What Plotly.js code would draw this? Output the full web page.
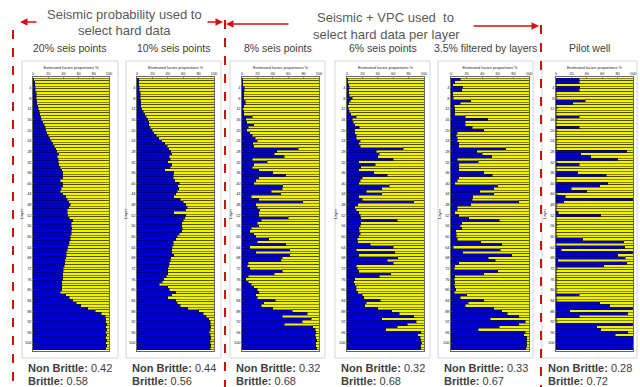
<!DOCTYPE html>
<html><head><meta charset="utf-8">
<script src="https://cdn.plot.ly/plotly-3.0.1.min.js"></script>
<style>html,body{margin:0;padding:0;background:#fff}</style>
</head><body><div id="chart" style="width:640px;height:387px"></div>
<script>
const layers = [1,2,3,4,5,6,7,8,9,10,11,12,13,14,15,16,17,18,19,20,21,22,23,24,25,26,27,28,29,30,31,32,33,34,35,36,37,38,39,40,41,42,43,44,45,46,47,48,49,50,51,52,53,54,55,56,57,58,59,60,61,62,63,64,65,66,67,68,69,70,71,72,73,74,75,76,77,78,79,80,81,82,83,84,85,86,87,88,89,90,91,92,93,94,95,96,97,98,99,100,101,102];
const panelTitles = ["20% seis points","10% seis points","8% seis points","6% seis points","3.5% filtered by layers","Pilot well"];
const nonBrittle = ["0.42","0.44","0.32","0.32","0.33","0.28"];
const brittle = ["0.58","0.56","0.68","0.68","0.67","0.72"];
const xTicks = [0,20,40,60,80,100];
const yTicks = [4,8,12,16,20,24,28,32,36,40,44,48,52,56,60,64,68,72,76,80,84,88,92,96,100];

const seis20 = [1,2,2,3,3,4,4,4,5,5,6,7,8,9,10,11,13,15,16,17,18,20,22,24,26,28,30,31,34,32,33,33,34,36,38,39,39,39,36,39,39,37,36,39,43,45,47,49,47,45,45,46,48,52,50,50,51,50,50,49,49,48,47,46,45,44,44,43,42,42,41,40,40,39,39,39,38,38,38,38,36,43,48,52,57,63,72,82,90,95,96,96,97,96,97,96,97,96,97,96,97,96];
const seis10 = [2,2,2,3,3,4,4,4,5,5,5,6,8,10,12,14,15,15,17,20,22,25,28,32,36,39,41,44,45,42,43,40,45,43,36,48,47,47,49,55,53,54,52,50,48,56,60,63,65,63,48,63,62,60,58,58,59,58,55,52,50,47,47,46,45,45,48,44,43,42,41,40,40,40,38,35,33,29,40,42,50,45,40,50,52,56,66,80,86,90,93,95,95,96,95,94,95,96,95,95,96,95];
const seis8 = [1,1,1,3,3,2,2,2,4,4,2,1,2,2,13,5,6,15,8,6,10,13,17,20,14,15,73,45,42,55,13,33,15,13,22,40,57,22,18,15,53,52,38,50,12,22,79,18,20,23,22,22,60,25,20,22,12,10,15,18,35,20,57,10,62,18,62,52,50,8,7,10,52,42,8,5,8,12,15,20,22,18,20,43,28,25,40,65,85,52,90,78,55,92,95,96,95,96,97,96,96,97];
const seis6 = [1,1,2,3,2,2,3,7,4,2,1,2,3,5,12,7,8,10,16,10,10,12,12,17,15,17,73,38,42,40,60,15,37,18,15,35,52,20,17,15,55,45,25,45,15,20,87,14,10,12,15,17,18,65,18,17,15,16,17,15,13,14,30,60,12,62,15,66,52,60,12,13,15,57,42,10,9,10,12,12,14,20,22,43,25,23,40,58,68,87,45,90,78,65,50,96,92,95,96,97,96,96];
const filt35 = [12,5,2,15,14,2,2,3,25,12,4,5,5,5,18,47,18,18,27,42,8,7,8,8,10,10,70,33,40,52,8,35,10,10,10,42,53,10,8,5,60,55,37,55,28,27,87,25,8,8,5,10,23,62,14,12,14,6,7,7,8,38,65,3,63,15,78,48,57,10,5,4,60,42,5,4,5,4,5,6,4,20,12,42,22,18,55,65,72,87,50,95,87,62,35,95,93,97,97,97,97,96];
const pilot = [30,30,0,31,30,0,0,0,38,22,0,0,0,0,30,0,0,0,30,0,0,0,0,0,0,0,0,92,32,45,80,0,30,0,0,28,65,0,0,67,57,20,40,0,12,100,10,0,0,0,3,58,0,0,0,0,0,0,0,0,35,88,0,89,7,100,80,90,2,92,62,0,0,0,0,0,0,0,0,0,0,30,0,0,57,70,100,18,93,30,0,0,100,53,58,93,77,100,100,100,100,100];
const panels = [seis20, seis10, seis8, seis6, filt35, pilot];

const BLUE = '#0000c8', YELLOW = '#f2f200';
const W = 640, H = 387;
const px = x => x / W, py = y => 1 - y / H;
const plotX = [[33,109],[137,214],[242,319],[347,424],[451,529],[556,633]];
const boxX = [[22,118],[126,221],[230,325],[335,430],[438,533],[542,637]];
const yDom = [py(351), py(77)];
const FONT = 'Liberation Sans, Arial, sans-serif';

const data = [];
const layout = {
  width: W, height: H, margin: {l:0,r:0,t:0,b:0},
  paper_bgcolor: '#fff', plot_bgcolor: '#fff', showlegend: false,
  barmode: 'stack', bargap: 0, font: {family: FONT},
  shapes: [], annotations: []
};

panels.forEach((vals, i) => {
  const k = i === 0 ? '' : String(i + 1);
  const xa = 'x' + k, ya = 'y' + k;
  data.push({type:'bar', orientation:'h', y: layers, x: vals, xaxis: xa, yaxis: ya,
    marker:{color: BLUE, line:{color:'#000060', width:0.4}}, hoverinfo:'skip'});
  data.push({type:'bar', orientation:'h', y: layers, x: vals.map(v => 100 - v), xaxis: xa, yaxis: ya,
    marker:{color: YELLOW, line:{color:'#1a1a00', width:0.5}}, hoverinfo:'skip'});
  const axCommon = {range:[0,100], tickvals: xTicks, ticks:'inside', ticklen:2, tickwidth:0.5,
    tickfont:{size:4, color:'#222', family:FONT}, showgrid:false, zeroline:false, fixedrange:true};
  layout['xaxis' + k] = Object.assign({}, axCommon, {
    domain:[px(plotX[i][0]), px(plotX[i][1])], anchor: ya, side:'top',
    showline:true, linecolor:'#000', linewidth:0.6, mirror:true,
    title:{text:'Estimated facies proportions %', font:{size:4, color:'#222', family:FONT}, standoff:1}
  });
  const kk = String(i + 7);
  layout['xaxis' + kk] = Object.assign({}, axCommon, {
    overlaying: xa, anchor: ya, side:'bottom', showline:false
  });
  layout['yaxis' + k] = {
    domain: yDom, anchor: xa, range:[103, 0], tickvals: yTicks, ticks:'inside', ticklen:2, tickwidth:0.5,
    tickfont:{size:4, color:'#222', family:FONT}, showgrid:false, zeroline:false, fixedrange:true,
    showline:true, linecolor:'#000', linewidth:0.6, mirror:true,
    title:{text:'Layer', font:{size:4, color:'#222', family:FONT}, standoff:1}
  };
  layout.shapes.push({type:'rect', xref:'paper', yref:'paper', x0:px(boxX[i][0]), x1:px(boxX[i][1]),
    y0:py(358), y1:py(61), line:{color:'#d4d4d4', width:1}, fillcolor:'#fff', layer:'below'});
  const cx = (boxX[i][0] + boxX[i][1]) / 2;
  layout.annotations.push({xref:'paper', yref:'paper', x:px(cx), y:py(48), text: panelTitles[i],
    showarrow:false, xanchor:'center', yanchor:'middle', font:{size:10.5, color:'#404040', family:FONT}});
  layout.annotations.push({xref:'paper', yref:'paper', x:px(boxX[i][0] + 4), y:py(368),
    text:'<b>Non Brittle:</b> ' + nonBrittle[i], showarrow:false, xanchor:'left', yanchor:'middle',
    font:{size:11, color:'#404040', family:FONT}});
  layout.annotations.push({xref:'paper', yref:'paper', x:px(boxX[i][0] + 4), y:py(381),
    text:'<b>Brittle:</b> ' + brittle[i], showarrow:false, xanchor:'left', yanchor:'middle',
    font:{size:11, color:'#404040', family:FONT}});
});

// group headings
[["Seismic probability used to",124,15],["select hard data",124,31],
 ["Seismic + VPC used  to",385,17],["select hard data per layer",386,34]].forEach(t => {
  layout.annotations.push({xref:'paper', yref:'paper', x:px(t[1]), y:py(t[2]), text:t[0].replace(/  /g,' &nbsp;'),
    showarrow:false, xanchor:'center', yanchor:'middle', font:{size:13, color:'#595959', family:FONT}});
});
// red dashed dividers
const RED = '#d01010';
[[13,30],[225,20],[541,25]].forEach(d => {
  layout.shapes.push({type:'line', xref:'paper', yref:'paper', x0:px(d[0]), x1:px(d[0]), y0:py(d[1]), y1:py(387),
    line:{color:RED, width:2, dash:'dash'}});
});
// red arrows [headX, headY, tailX, tailY]
[[20,22,38,22],[223,22,206,22],[226,24,290,24],[539,26,472,26]].forEach(a => {
  layout.annotations.push({xref:'paper', yref:'paper', x:px(a[0]), y:py(a[1]), axref:'pixel', ayref:'pixel',
    ax:a[2]-a[0], ay:a[3]-a[1], text:'', showarrow:true, arrowhead:2, arrowsize:1, arrowwidth:1.5, arrowcolor:RED});
});

Plotly.newPlot('chart', data, layout, {displayModeBar:false, staticPlot:true});
</script></body></html>
